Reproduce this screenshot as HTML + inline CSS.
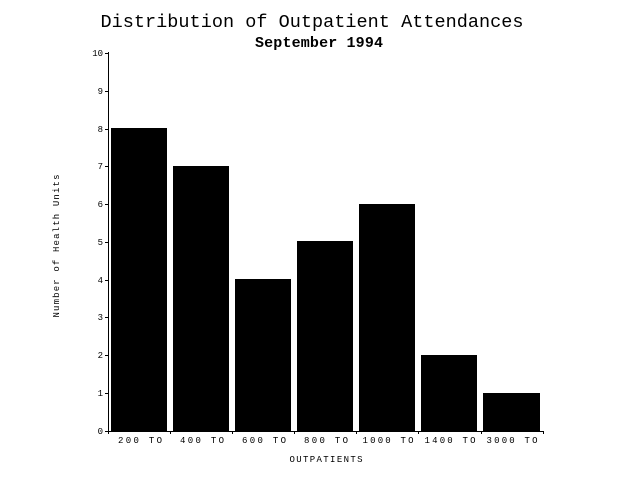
<!DOCTYPE html>
<html><head><style>body{margin:0;background:#fff}svg{display:block}</style></head><body>
<svg width="640" height="480" xmlns="http://www.w3.org/2000/svg">
<text x="312" y="27" font-family="Liberation Mono, monospace" font-size="18.5" text-anchor="middle" textLength="423">Distribution of Outpatient Attendances</text>
<text x="319" y="47" font-family="Liberation Mono, monospace" font-size="15" font-weight="bold" text-anchor="middle" textLength="128">September 1994</text>
<g fill="#000">
<rect x="111" y="128" width="56" height="303"/>
<rect x="173" y="166" width="56" height="265"/>
<rect x="235" y="279" width="56" height="152"/>
<rect x="297" y="241" width="56" height="190"/>
<rect x="359" y="204" width="56" height="227"/>
<rect x="421" y="355" width="56" height="76"/>
<rect x="483" y="393" width="57" height="38"/>
</g>
<g stroke="#000" stroke-width="1" shape-rendering="crispEdges">
<line x1="108.5" y1="52" x2="108.5" y2="431"/>
<line x1="108" y1="431.5" x2="544" y2="431.5"/>
<line x1="105" y1="53.5" x2="108" y2="53.5"/>
<line x1="105" y1="91.5" x2="108" y2="91.5"/>
<line x1="105" y1="129.5" x2="108" y2="129.5"/>
<line x1="105" y1="166.5" x2="108" y2="166.5"/>
<line x1="105" y1="204.5" x2="108" y2="204.5"/>
<line x1="105" y1="242.5" x2="108" y2="242.5"/>
<line x1="105" y1="280.5" x2="108" y2="280.5"/>
<line x1="105" y1="317.5" x2="108" y2="317.5"/>
<line x1="105" y1="355.5" x2="108" y2="355.5"/>
<line x1="105" y1="393.5" x2="108" y2="393.5"/>
<line x1="105" y1="431.5" x2="108" y2="431.5"/>
<line x1="108.5" y1="431" x2="108.5" y2="434"/>
<line x1="170.5" y1="431" x2="170.5" y2="434"/>
<line x1="232.5" y1="431" x2="232.5" y2="434"/>
<line x1="294.5" y1="431" x2="294.5" y2="434"/>
<line x1="356.5" y1="431" x2="356.5" y2="434"/>
<line x1="418.5" y1="431" x2="418.5" y2="434"/>
<line x1="481.5" y1="431" x2="481.5" y2="434"/>
<line x1="543.5" y1="431" x2="543.5" y2="434"/>
</g>
<g font-family="Liberation Mono, monospace" font-size="9" text-anchor="end">
<text x="103" y="56">10</text><text x="103" y="94">9</text><text x="103" y="132">8</text>
<text x="103" y="169">7</text><text x="103" y="207">6</text><text x="103" y="245">5</text>
<text x="103" y="283">4</text><text x="103" y="320">3</text><text x="103" y="358">2</text>
<text x="103" y="396">1</text><text x="103" y="434">0</text>
</g>
<g font-family="Liberation Mono, monospace" font-size="9" text-anchor="middle">
<text x="140" y="443" textLength="44">200 TO</text><text x="202" y="443" textLength="44">400 TO</text><text x="264" y="443" textLength="44">600 TO</text>
<text x="326" y="443" textLength="44">800 TO</text><text x="388" y="443" textLength="51">1000 TO</text><text x="450" y="443" textLength="51">1400 TO</text>
<text x="512" y="443" textLength="51">3000 TO</text>
<text x="326" y="462" textLength="73">OUTPATIENTS</text>
<text x="0" y="0" transform="translate(59,246) rotate(-90)" textLength="143">Number of Health Units</text>
</g>
</svg>
</body></html>
